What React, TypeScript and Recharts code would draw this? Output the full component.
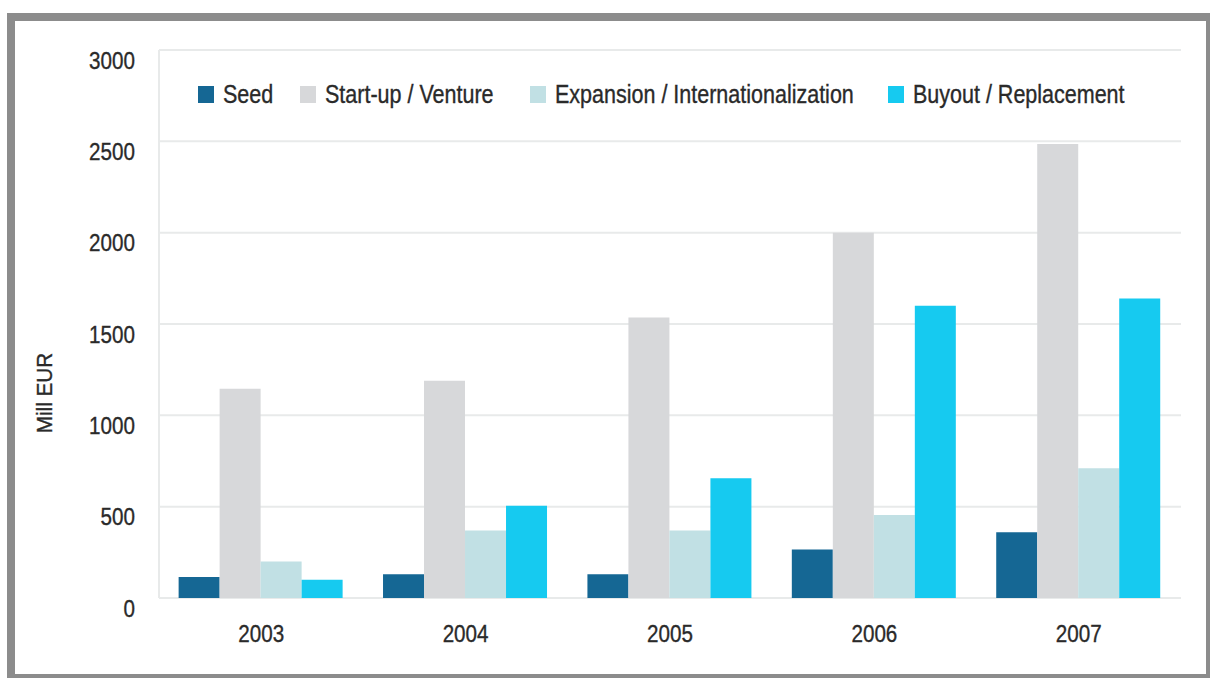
import { BarChart, Bar, XAxis, YAxis, CartesianGrid } from 'recharts';

const YEARS = ['2003', '2004', '2005', '2006', '2007'];
const SEED = [115, 130, 130, 265, 360];
const STARTUP = [1145, 1190, 1535, 2000, 2485];
const EXPANSION = [200, 370, 370, 455, 710];
const BUYOUT = [100, 505, 655, 1600, 1640];
const Y_TICKS = [0, 500, 1000, 1500, 2000, 2500, 3000];

const SERIES = [
  { key: 'seed', name: 'Seed', color: '#156794' },
  { key: 'startup', name: 'Start-up / Venture', color: '#d7d8da' },
  { key: 'expansion', name: 'Expansion / Internationalization', color: '#c1e0e4' },
  { key: 'buyout', name: 'Buyout / Replacement', color: '#16caf0' },
];

// left edge of each legend swatch
const LEGEND_X = [198, 300, 530, 888];

const data = YEARS.map((year, i) => ({
  year,
  seed: SEED[i],
  startup: STARTUP[i],
  expansion: EXPANSION[i],
  buyout: BUYOUT[i],
}));

const FONT = "'Liberation Sans', Arial, sans-serif";
const SQUEEZE = 0.86; // horizontal squeeze to get a condensed look
const GRID = '#e8eaea';
const TEXT = '#2a2a2a';

const YTick = ({ x, y, payload }: any) => (
  <text
    transform={`translate(${x - 16},${y + 10}) scale(${SQUEEZE},1)`}
    dy="0.355em"
    textAnchor="end"
    fill={TEXT}
    stroke={TEXT}
    strokeWidth={0.35}
    fontSize={24}
    fontFamily={FONT}
  >
    {payload.value}
  </text>
);

const XTick = ({ x, y, payload }: any) => (
  <text
    transform={`translate(${x},${y + 27}) scale(${SQUEEZE},1)`}
    dy="0.355em"
    textAnchor="middle"
    fill={TEXT}
    stroke={TEXT}
    strokeWidth={0.35}
    fontSize={24}
    fontFamily={FONT}
  >
    {payload.value}
  </text>
);

const ChartLegend = () => (
  <>
    {SERIES.map((s, i) => (
      <div
        key={s.key}
        style={{ position: 'absolute', left: LEGEND_X[i], top: 81, height: 26, display: 'flex', alignItems: 'center' }}
      >
        <span style={{ width: 16, height: 17, background: s.color, display: 'inline-block', marginRight: 9 }} />
        <span
          style={{
            fontFamily: FONT,
            fontSize: 25,
            lineHeight: '26px',
            color: TEXT,
            WebkitTextStroke: `0.35px ${TEXT}`,
            whiteSpace: 'nowrap',
            display: 'inline-block',
            transform: `scaleX(${SQUEEZE})`,
            transformOrigin: 'left center',
          }}
        >
          {s.name}
        </span>
      </div>
    ))}
  </>
);

export default function App() {
  return (
    <div style={{ position: 'absolute', left: 0, top: 0, width: 1210, height: 678, background: '#fff', overflow: 'hidden' }}>
      <div
        style={{
          position: 'absolute',
          left: 7,
          top: 13,
          width: 1203,
          height: 665,
          boxSizing: 'border-box',
          borderStyle: 'solid',
          borderColor: '#8c8c8c',
          borderWidth: '8px 4px 4px 8px',
        }}
      />
      <div style={{ position: 'absolute', left: 0, top: 0 }}>
        <BarChart
          width={1210}
          height={678}
          data={data}
          margin={{ top: 50, right: 29, bottom: 40, left: 99 }}
          barCategoryGap="9.6%"
          barGap={0}
        >
          <CartesianGrid vertical={false} stroke={GRID} strokeWidth={2} />
          <XAxis
            dataKey="year"
            height={40}
            axisLine={false}
            tickLine={false}
            tick={<XTick />}
            interval={0}
          />
          <YAxis
            width={60}
            domain={[0, 3000]}
            ticks={Y_TICKS}
            axisLine={{ stroke: GRID, strokeWidth: 2 }}
            tickLine={false}
            tick={<YTick />}
            interval={0}
          />
          {SERIES.map((s) => (
            <Bar key={s.key} dataKey={s.key} name={s.name} fill={s.color} isAnimationActive={false} />
          ))}
        </BarChart>
      </div>
      <ChartLegend />
      <div
        style={{
          position: 'absolute',
          left: 45,
          top: 393,
          transform: 'translate(-50%, -50%) rotate(-90deg) scaleX(0.94)',
          fontFamily: FONT,
          fontSize: 22,
          color: TEXT,
          WebkitTextStroke: `0.35px ${TEXT}`,
          whiteSpace: 'nowrap',
        }}
      >
        Mill EUR
      </div>
    </div>
  );
}
